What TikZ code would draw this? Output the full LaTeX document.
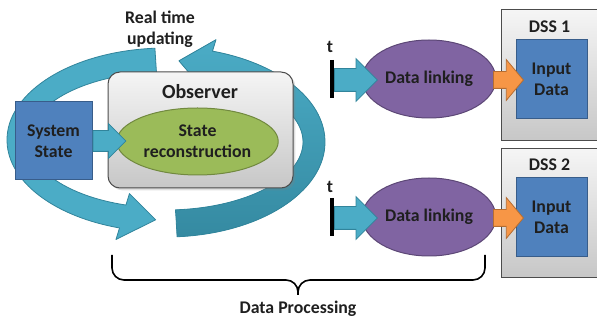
\documentclass[tikz,border=0pt]{standalone}
\usepackage{fontspec}
\setmainfont{Carlito}
\usetikzlibrary{shapes.geometric,shapes.arrows,shadows}
\definecolor{aqua}{HTML}{4BACC6}
\definecolor{aquadark}{HTML}{31849B}
\definecolor{boxblue}{HTML}{4F81BD}
\definecolor{boxbluedark}{HTML}{385D8A}
\definecolor{olive}{HTML}{9BBB59}
\definecolor{olivedark}{HTML}{71893F}
\definecolor{violet}{HTML}{8064A2}
\definecolor{violetdark}{HTML}{5C4776}
\definecolor{tangerine}{HTML}{F79646}
\definecolor{tangerinedark}{HTML}{B66D31}
\begin{document}
\begin{tikzpicture}[x=1pt,y=-1pt,
    every node/.style={font=\bfseries\fontsize{17.8}{21}\selectfont,text=black!88},
    cycle/.style={fill=aqua,draw=aquadark,line width=0.8pt,line join=round},
    bluebox/.style={draw=boxbluedark,fill=boxblue,line width=1pt,align=center},
    greybox/.style={draw=black!70,line width=1pt,top color=white!96!black,bottom color=black!22},
    blockarrow/.style={single arrow,draw=aquadark,fill=aqua,line width=0.8pt,inner xsep=0pt,anchor=tail},
    orangearrow/.style={blockarrow,draw=tangerinedark,fill=tangerine},
    linking/.style={ellipse,draw=violetdark,fill=violet,line width=1pt,minimum width=132pt,minimum height=78pt}]
\useasboundingbox (0,0) rectangle (597,320);

% real time updating loop
\filldraw[cycle] ([shift={(166,140)}]266:159 and 92)
    arc[start angle=266,end angle=107,x radius=159,y radius=92]
    -- ([shift={(166,140)}]107:171 and 104) -- ([shift={(166,140)}]94:148 and 80)
    -- ([shift={(166,140)}]107:125 and 56) -- ([shift={(166,140)}]107:137 and 68)
    arc[start angle=107,end angle=266,x radius=137,y radius=68] -- cycle;
\filldraw[cycle,top color=aqua,bottom color=aquadark!85!aqua] ([shift={(166,142)}]86:159 and 95)
    arc[start angle=86,end angle=-73,x radius=159,y radius=95]
    -- ([shift={(166,142)}]-73:171 and 107) -- ([shift={(166,142)}]-85:148 and 81.5)
    -- ([shift={(166,142)}]-73:125 and 56) -- ([shift={(166,142)}]-73:137 and 68)
    arc[start angle=-73,end angle=86,x radius=137,y radius=68] -- cycle;
\node[align=center] (update) at (160,29) {Real time\\updating};

% observer
\node[greybox,rounded corners=12pt,drop shadow={opacity=0.25},minimum width=185pt,minimum height=116pt] (obs) at (200.5,130) {};
\node (obstitle) at (200,92) {\fontsize{20}{24}\selectfont Observer};
\node[ellipse,draw=olivedark,fill=olive,line width=1pt,minimum width=161pt,minimum height=67pt,align=center] (rec) at (197.5,141.5) {State\\reconstruction};
\node[bluebox,minimum width=77pt,minimum height=78pt] (sys) at (53.5,141) {System\\State};
\node[blockarrow,minimum height=33pt,inner ysep=10pt,single arrow head extend=7pt] (sysarrow) at (sys.east) {};

% DSS 1
\node[greybox,minimum width=96pt,minimum height=131pt] (dss1) at (549,75.5) {};
\node (dsstitle1) at (549.5,27) {DSS 1};
\node[bluebox,minimum width=71pt,minimum height=79pt] (in1) at (551.5,79.5) {Input\\Data};
\node[linking] (link1) at (429,79) {Data linking};
\node (t1) at (330,47) {t};
\draw[line width=3.5pt] (332,60) -- (332,98);
\node[blockarrow,minimum height=43pt,inner ysep=11pt,single arrow head extend=10pt] (tarrow1) at (334,80) {};
\node[orangearrow,minimum height=30pt,inner ysep=8pt,single arrow head extend=12pt,single arrow tip angle=100] (outarrow1) at (493,80) {};

% DSS 2
\node[greybox,minimum width=96pt,minimum height=129pt] (dss2) at (549,213.5) {};
\node (dsstitle2) at (549.5,165) {DSS 2};
\node[bluebox,minimum width=71pt,minimum height=79pt] (in2) at (551.5,217.5) {Input\\Data};
\node[linking] (link2) at (429,217) {Data linking};
\node (t2) at (330,187) {t};
\draw[line width=3.5pt] (332,198) -- (332,236);
\node[blockarrow,minimum height=43pt,inner ysep=11pt,single arrow head extend=10pt] (tarrow2) at (334,218) {};
\node[orangearrow,minimum height=30pt,inner ysep=8pt,single arrow head extend=12pt,single arrow tip angle=100] (outarrow2) at (493,218) {};

% brace
\draw[line width=1.6pt,rounded corners=12pt] (112,255) |- (298,280) -- (298,295);
\draw[line width=1.6pt,rounded corners=12pt] (485,255) |- (298,280) -- (298,295);
\node (proc) at (298,309) {Data Processing};
\end{tikzpicture}
\end{document}
